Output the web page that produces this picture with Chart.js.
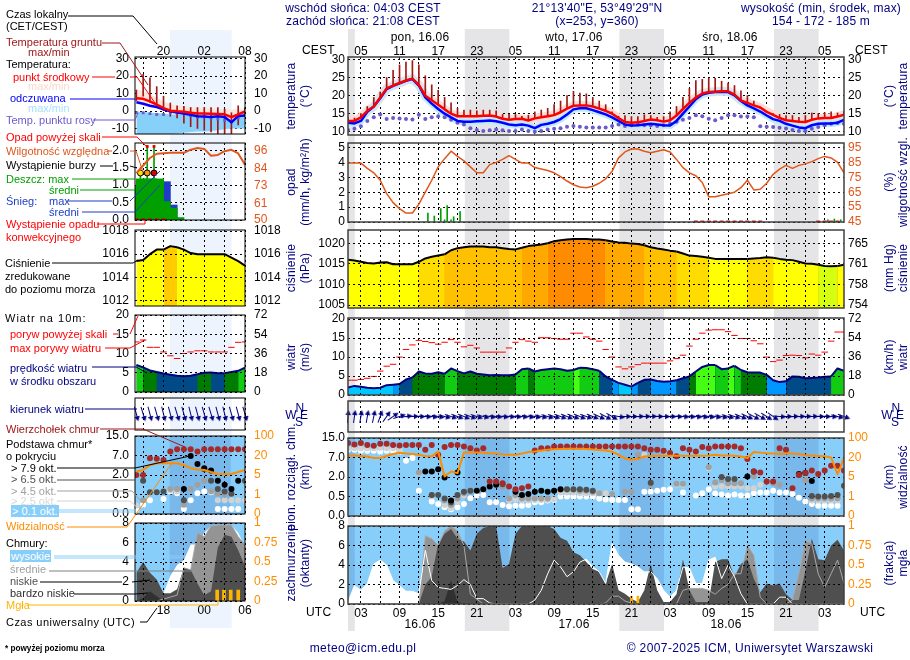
<!DOCTYPE html>
<html lang="pl">
<head>
<meta charset="UTF-8" />
<title>Meteogram</title>
<script src="https://cdn.jsdelivr.net/npm/chart.js"></script>
<style>
  html, body { margin: 0; padding: 0; background: #fff; }
  #page { position: relative; width: 910px; height: 660px; overflow: hidden; font: 12px "Liberation Sans", Arial, sans-serif; }
  #page canvas { position: absolute; }
  #page svg { position: absolute; left: 0; top: 0; }
  .t { position: absolute; white-space: nowrap; transform: translateY(-50%); letter-spacing: 0.2px; }
  .leg { font-size: 11px; letter-spacing: 0; }
  .c { transform: translate(-50%, -50%); }
  .r { transform: translate(-50%, -50%) rotate(-90deg); }
</style>
</head>
<body>
<div id="page"></div>
<script>
const n = null;

// ---- main column, hours counted from 16.06 00 UTC ----
const hours = [];
for (let h = 1; h <= 78; h++) hours.push(h);

const nightStart = [-5, 19.13, 43.13, 67.13];
const nightEnd = [2.05, 26.05, 50.05, 74.05];

const tempMid = [
  13,13,14,15.8,17,19.5,22,22.8,23.5,24.2,
  24.7,23,20,18.7,17.5,16.2,15,14.3,14.3,14.3,
  14.3,14.4,14.5,14.2,13.6,13.3,13.5,13.6,13.1,13.7,
  14,14.3,14.6,15.4,16.4,17.2,17.3,17.3,17,16.4,
  15.8,15,13.8,12.7,12.5,12.6,13,13.4,13.2,12.8,
  13.2,14.5,16.3,18,19.5,20.6,21,21.1,21.2,21.2,
  20.3,18.7,18,17.3,16.7,15.5,14.7,13.8,13.2,13,
  12.8,12.7,13.3,13.7,13.8,13.8,14.2,14.7];
const tempFeel = [
  12.5,12.3,13,15.5,17,19.3,21.8,22.7,23.4,24.1,
  24.6,22.8,19.5,17.8,16.3,15,14,13,12.8,12.8,
  12.9,13,13.1,12.9,12.5,12,11.8,12,11.7,11,
  11.9,12.2,12.7,13.5,14.8,16.2,16.5,16.5,16,15.4,
  14.8,14,13,12,11.7,11.8,12,12.2,12,11.8,
  11.7,13,15,17,19,20.3,20.8,21,21,21,
  20.1,18.5,17.3,16.5,15.6,14.5,13.5,13,12.2,11.7,
  11.2,11,11.8,12.2,12.3,12.3,12.5,13.3];
const tempDew = [
  10.5,10.8,11.5,13,14,14.8,13.5,13.8,13.7,13.5,
  13.4,14.7,13.5,14,14.3,14,13.3,12.5,12,11,
  10.5,10.2,10.4,10.6,10.4,10.2,10.2,10.6,10.2,10,
  10.2,10.6,10.8,11,11.4,11.6,11.4,11.2,11.2,11.2,
  11.2,11.6,12,11.6,11.8,12,11.8,11.8,11.6,11.8,
  12.3,12.8,13.3,13.8,14.6,14.3,13.6,13.2,13.8,14.6,
  14.6,14.2,14.2,14,11.5,11.4,11.3,11.1,10.9,10.5,
  10.2,10.2,10.8,11.3,11.8,12.2,12.4,12.2];
const soilMax = [
  14,13.8,15,17,19.5,21,25,27,28.5,29.3,
  29.7,28.5,25.5,23,21.5,19.5,18,16.5,16,16,
  15.8,16,16,15.8,14.8,14.8,14.8,14.3,14.6,15.5,
  16,16.5,17.5,18.5,20,21.2,20.7,20.5,19.5,18.5,
  17.5,15.5,14.3,14.5,14.2,14.2,14.7,14.5,14,14.2,
  15.5,17,19.5,22,24.2,24.5,24.8,24.8,24,23.5,
  22.8,21.3,20,18.5,16.5,15.5,15,14.8,14.5,14.5,
  14,14.5,15.2,15,15.3,15.5,15.2,15.7];

const humidity = [
  84.5,84.5,84.5,81,78,73,64,58,54,51,
  51,57,65,73,82,87.5,92.5,89,86,82,
  78,78,83.5,85,87,89.5,87,84.5,84.5,81.5,
  80.5,79.5,78,75.5,72.5,70,68.5,68,69,71,
  74,79,88,92,94,94,92.5,91.5,92.5,93.5,
  92,87,81.5,78,76,71.5,62,62,63,64,
  65,68,73,66.5,67,71,77,80.5,83,81,
  83,84,85.5,87.5,89,88,85,78];
const rainHours = [13.4,14.4,15.4,16,16.4,17,17.4,18.4,75.5,76.5,77.5];
const rainValues = [0.6,0.4,0.9,0.15,1.1,0.15,0.35,0.7,0.15,0.2,0.15];
const convectiveHours = [55,56,57,58,59,60,61,62,63,64,65,74,75,76,77];
const convectiveValues = [0.03,0.03,0.03,0.03,0.03,0.03,0.03,0.03,0.03,0.03,0.03,0.03,0.03,0.03,0.03];

const pressure = [
  1016,1015.8,1015.5,1015.2,1015.1,1015.3,1015.4,1014.9,1014.9,1014.9,
  1014.9,1015.5,1016.3,1016.7,1017,1017.3,1018.3,1018.8,1019,1019.2,
  1019.2,1019.2,1019,1019,1018.8,1018.6,1018.5,1018.9,1019.3,1019.5,
  1019.7,1020,1020.5,1020.7,1020.9,1021,1021,1021,1020.9,1020.9,
  1020.7,1020.4,1020.2,1020.1,1019.9,1019.8,1019.5,1019,1018.7,1018.5,
  1018.2,1018,1017.5,1017,1016.9,1016.7,1016.5,1016.2,1016.2,1016.2,
  1016.2,1016.2,1016.2,1016.3,1016.4,1016.6,1016.5,1016.2,1016,1015.9,
  1015.5,1015.1,1015,1014.8,1014.5,1014.4,1014.5,1014.8];

const windSpeed = [
  2,2.4,2.2,1.9,1.8,1.9,2.6,2.7,2.9,4.1,
  4.6,6.2,5.7,5.6,6,5.6,7,6.3,5.7,6.2,
  5.6,5.4,5.2,5.3,5.2,5.2,5.4,6.8,7,6.2,
  6.6,6.8,7,6.8,6.4,6.6,7.2,7.1,6.8,6.4,
  4.9,4,3.2,2.7,2.2,3.2,4,4.1,3.7,3.5,
  3.6,3.9,4.4,4.9,6.2,7.4,7.9,7.9,6.8,7,
  7.7,6.6,6,5.9,5.9,5.3,3.9,3.4,3.6,4.9,
  4.8,4.4,4.5,4.6,4.8,4.9,7,6.4];
const windGust = [
  3.9,3.9,4.1,4.4,4.9,6.3,7.6,8.1,10,12,
  13.2,14.4,14.1,13.8,13.4,13.9,14.6,13.9,12.7,13.1,
  12.4,11.3,11.3,11.3,11.3,12.4,13.9,14.6,14.2,13.9,
  15.1,15.1,14.9,14.7,14.7,16.3,16.3,15.3,14.7,14.2,
  12,10,7.4,6.9,7.4,8,8.4,8.4,8.4,8.4,
  9,9.6,10.5,12.9,14.7,16.3,17.1,17.2,17.2,16.7,
  15.7,14.9,14.9,14.3,13.5,10,8.8,9.2,10.4,10.5,
  10.4,9.8,10.8,10.5,11.3,14.2,16.6,16.6];
const windDir = [
  5,8,10,10,12,20,35,55,72,82,
  88,92,95,98,100,105,108,110,112,110,
  108,105,100,98,98,96,96,98,100,102,
  104,106,108,110,112,112,112,110,112,115,
  118,120,100,90,90,88,88,88,90,92,
  92,94,96,96,98,100,100,102,104,106,
  108,112,115,118,120,122,125,95,90,88,
  88,88,88,90,92,95,105,110];

// cloud heights are kept as positions on the uneven axis (0.0, 0.5, 2.0, 7.0, 15.0 km)
const cloudTop = [
  3.74,3.67,3.74,3.64,3.6,3.7,3.7,3.64,3.62,3.64,
  3.64,3.64,3.4,3.64,3.14,3.54,3.64,3.64,3.57,3.48,
  3.36,3.48,1.77,1.77,1.68,1.51,1.37,1.42,1.51,3.36,
  3.48,3.48,3.57,3.56,3.56,3.56,3.56,3.56,3.56,3.56,
  3.56,3.56,3.56,3.56,3.56,3.56,3.48,3.4,3.4,3.35,
  3.23,3.06,3.48,3.4,3.31,3.54,3.48,3.57,3.57,3.57,
  3.57,3.48,2.92,2.28,2.23,1.77,1.77,3.48,3.4,1.42,
  2.11,2.2,2.33,2.15,2.33,2.58,2.58,2.33];
const base79 = [
  n,n,n,n,n,n,n,n,n,n,
  n,n,2.28,2.28,2.4,1.97,.79,2.23,n,n,
  1.3,1.37,1.51,1.6,n,n,1.25,1.08,1.13,1.25,
  1.3,1.24,1.3,1.37,n,n,n,n,n,n,
  n,n,n,n,n,n,n,n,n,n,
  n,n,n,n,n,n,n,n,n,n,
  n,n,2.03,2.28,n,n,n,n,n,n,
  2.15,2.2,1.8,n,n,n,n,n];
const base65 = [
  n,n,n,n,n,n,n,n,n,n,
  n,n,n,1.08,1.08,.9,.69,1.08,1.25,1.3,
  n,n,n,n,1.63,n,n,n,n,n,
  n,n,n,n,1.37,1.37,1.37,1.34,1.3,n,
  n,n,n,n,n,n,n,1.7,n,n,
  n,n,n,n,n,n,n,n,2,1.9,
  1.9,n,n,n,n,n,n,n,n,n,
  2.1,n,1.03,1,1,1.03,1.08,1.55];
const base45 = [
  n,n,n,n,n,n,n,n,n,n,
  n,2.23,n,1.08,n,.8,.57,.9,1.17,1.28,
  n,n,n,1.6,1.5,.9,1.08,.9,.9,.9,
  .9,.9,1.3,1.34,1.34,1.34,1.3,1.3,1.25,1.17,
  n,1.13,n,1.25,1.25,3.14,n,1.6,n,n,
  n,1.65,1.65,n,n,n,2.5,1.72,1.85,1.68,
  1.68,1.68,n,2.03,n,1.77,1.68,1.6,n,n,
  n,1.85,.9,.9,.9,.9,.9,n];
const base25 = [
  3.48,3.48,3.48,3.48,3.48,3.5,3.48,3.48,3.4,n,
  n,2.2,n,1,n,.57,.4,.74,1.05,n,
  n,n,n,n,n,.8,.85,.8,.8,.82,
  .82,.82,.85,1.2,1.2,1.2,1.17,1.17,1.17,1.17,
  1.17,1.13,n,n,n,n,3.14,n,n,n,
  n,1.6,1.6,n,n,n,2.45,1.51,1.51,1.51,
  1.51,1.51,1.42,1.42,1.6,n,n,n,n,n,
  n,n,.79,.79,.79,.79,.79,n];
const base01 = [
  3.4,3.4,3.35,3.35,3.35,3.3,3.35,3.35,3.3,2.83,
  2.97,1.3,n,.74,.62,.45,.34,.45,.62,.91,
  1.05,1.08,.7,.7,.57,.5,.52,.52,.57,.7,
  .7,.79,.82,1,1,1,1,1,1,.9,
  .85,.82,.82,.82,.34,.34,1.25,1.25,1.3,1.34,
  1.37,n,1.2,n,1.05,1.17,1.37,1.15,1.1,1.05,
  1.1,1.05,1.05,1.17,1.2,1.2,1.29,1.2,1.2,1.13,
  .94,.74,.62,.52,.52,.52,.52,n];
const visibility = [
  3.1,3.1,3.08,3.05,2.97,2.97,3.08,3.18,3.24,3.2,
  3.18,3.14,3.07,3.06,3.31,2.03,2.28,2.2,3.26,3.26,
  3.26,3.24,3.22,3.2,3.16,3.14,3.14,3.2,3.28,3.31,
  3.36,3.4,3.42,3.44,3.45,3.45,3.45,3.43,3.41,3.38,
  3.36,3.3,3.14,2.95,2.88,2.92,3.05,3.08,3.09,3.09,
  3.09,3.09,3.09,3.09,3.09,3.09,3.1,3.14,3.1,3.1,
  3.09,3.05,2.97,3.28,3.25,3.22,3.2,3.18,3.2,3.2,
  3.18,3.12,3.1,3.08,3.06,3,2.15,2.97];

const coverHigh = [
  .2,1.9,1.4,2.1,4.1,4.5,4,2.4,1.9,1.3,
  1.3,1.05,5.5,2.4,1.7,1.6,1.5,1.9,2.5,2,
  .55,.55,.1,0,0,0,0,0,0,.4,
  1.4,3.1,4.5,3.8,2.8,3.3,4.3,4.6,3.8,3.3,
  2.1,6.2,5,4.3,4.1,3.8,3.3,3.3,2.6,1.4,
  .7,1.4,3.8,3.7,2.1,2.1,4.5,4.8,2.6,4,
  2.8,1.05,0,0,0,0,0,.7,.7,0,
  0,0,0,0,0,0,0,0];
const coverMid = [
  0,0,0,0,0,0,0,0,0,0,
  0,0,7,6.7,6,7.5,8,7.5,6,1,
  .5,0,0,0,0,0,0,0,0,0,
  0,0,0,0,0,0,0,0,0,0,
  .1,.8,.8,.3,.1,0,0,0,0,0,
  0,0,1.4,1.6,1.6,1.6,1.4,1,1.6,2,
  3.1,3.1,6,5,.7,0,0,0,0,.4,
  3.1,6.5,6.2,3.1,1.7,3.1,4.5,2.1];
const coverLow = [
  0,0,0,0,0,0,0,0,0,0,
  0,0,2,2.8,6.2,7.2,7.7,6.7,6.4,5.5,
  7.2,7.8,8,8,3.7,4.1,7.2,8,8,8,
  8,8,7.7,6.8,6.5,5.3,5,4.3,3.6,3.3,
  2.1,4.1,1.4,1.05,.55,.2,1.4,4.1,1.4,.2,
  .2,1,4.6,1.4,.2,.2,.2,4.3,4.6,4.6,
  2.8,4.1,4.6,2.6,1.2,2.1,1.9,2.1,1,.4,
  .4,3.4,6.7,4.6,4.5,6,6.6,5.5];
const coverVeryLow = [
  0,0,0,0,0,0,0,0,0,0,
  0,0,0,0,0,.3,2.4,.2,0,0,
  0,0,0,0,0,0,0,0,0,0,
  0,0,0,0,0,0,0,0,0,0,
  0,0,0,0,0,0,0,0,0,0,
  0,0,0,0,0,0,0,0,0,0,
  0,0,0,0,0,0,0,0,0,0,
  0,0,0,0,0,0,0,0];
const fogHours = [45, 46];
const fogValues = [0.1, 0.1];

// ---- left column (legend sample), hours 14..30 ----
const legHours = [14,15,16,17,18,19,20,21,22,23,24,25,26,27,28,29,30];
const legNightStart = [18.9];
const legNightEnd = [27.9];
const legTemp = [7.3,7,5.5,3.7,1.7,.2,-.2,-.4,-1,-1.4,-1.5,-1.6,-1.7,-1.9,-3.5,-2,-.2];
const legFeel = [5,4.2,3,2.3,1,-.2,-.8,-1.5,-2.2,-3,-3.2,-3.5,-3,-3.5,-6.5,-2.8,-2.6];
const legTempMax = [13,11,9.5,7.6,5.5,3.8,3.2,2.7,2.3,1.9,1.8,1.6,1.2,1,.9,.8,.8];
const legFeelTop = [-.3,-.5,-1,-1.2,-1.5,-2,-2,-2,-2.5,-3,-3.2,-3.5,-3.5,-3.5,-6,-3,-3];
const legFeelBottom = [-13.2,-13.2,-13.2,-13.2,-13.2,-13.2,-13,-12.5,-12,-11.7,-11.7,-11.5,-11,-10.5,-10,-10,-10];
const legDew = [-1,-1,-1.5,-2,-2,-1,-1.2,-1.5,-2.7,-3.5,-3.5,-4,-4.6,-5.4,-6,-4,-2];
const legSoilMax = [12,21,19,14,8.5,4.6,3,2.7,2,2,2,2,2,1.2,-1,3,2];
const legSoilMin = [6,8.5,5,3,0,-3,-4,-7,-9,-10,-11,-12,-13,-13,-13,-8,-3];
const legHumidity = [81,86,91,93.8,94.2,94.4,94.4,94.4,96.5,97.6,97,92.5,93,95.5,96.4,94,86.5];
const legRainHours = [14.5,15.5,16.5,17.5,18.5,19.5];
const legRainMean = [.96,1.18,1.18,.53,.34,.07];
const legSnowMean = [0,0,0,1.1,.43,0];
const legWhiskerHours = [14.6,15.6,16.6];
const legWhiskerTop = [1.35,2.1,2.1];
const legStormLevel = [1.35,1.35,1.35];
const legOverScale = [n,2.11,2.11];
const legConvectiveHours = [14,15,16,17,18];
const legConvectiveValues = [.02,.02,.02,.02,.02];
const legPressure = [1015.4,1015.5,1016,1016.4,1016.4,1016.7,1016.6,1016.4,1016.1,1016,1016,1016,1016,1016,1015.7,1015.4,1015];
const legWind = [7,6.4,5.6,5.2,4.8,4.5,4.2,4.1,4.2,4.6,5,5.05,4.9,4.9,5.2,5.5,6.3];
const legGust = [13,13.5,11.6,11.6,10.4,9.4,8.7,10,10.4,10.7,10.7,10.4,10.4,10.4,11.6,12.9,13];
const legDir = [165,163,165,164,166,165,163,164,166,165,164,163,165,166,164,165,163];
const legTop = [2,2,2.86,2.83,2.77,3.2,3.32,3.32,3.32,3.2,3.32,3.32,3.32,3.32,3.32,3.32,3.32];
const leg79 = [n,n,n,n,n,n,n,1.28,2.98,2.57,2.35,2.23,1.7,1.5,1.28,1.7,n];
const leg65 = [n,1.7,1.12,1.12,1.16,n,n,.7,n,n,2.3,1.7,1.28,1.16,1.04,n,1.7];
const leg45 = [n,.7,n,n,n,1.28,1.28,.48,1.28,1.5,1.7,1.16,1.07,1,n,n,n];
const leg25 = [.43,n,n,n,n,1.2,1.15,n,n,n,n,n,.7,.7,.7,.7,.7];
const leg01 = [.22,.48,.7,n,.77,1.16,1.07,.26,.7,1.07,1.16,1.12,.26,.26,.26,.26,n];
const legVis = [2.18,2.26,2.5,2.6,2.6,2.6,2.6,2.5,2.35,2.28,2.26,2.15,2.05,2.05,2.05,2.15,2.26];
const legHigh = [0,0,0,0,.8,2.6,3.7,4.2,5.8,5.8,7,7.7,7.8,7.8,7.8,7,5.6];
const legMid = [0,0,0,0,.2,.4,.6,3.4,3.2,7,6.6,7.7,7.8,7.8,7.8,6.6,5.8];
const legLow = [2.9,4,2.9,2.2,.8,.8,1.2,3.4,3.2,1.8,.6,1,5.5,6.8,6.6,5.2,3.6];
const legVeryLow = [0,.3,1,.5,0,0,0,0,0,0,0,0,0,0,0,0,0];
const legFogHours = [25.9,26.9,27.9,29];
const legFogValues = [.14,.14,.14,.14];

// ---- tick labels ----
const cloudTicks = [0,1,2,3,4];
const cloudLabels = ['0.0','0.5','2.0','7.0','15.0'];
const visLabels = ['0','1','5','20','100'];

// ---- colours ----
const NAVY = '#000080', ORANGE = '#ff8c00', HUMID = '#e0561c', SKY = '#87cefa', SKYNIGHT = '#79b8ea';

function pressColor(p) {
  if (p < 1014.6) return '#d4ff10';
  if (p < 1016.25) return '#ffff00';
  if (p < 1018) return '#ffdc00';
  if (p < 1019.3) return '#ffc000';
  if (p < 1020.5) return '#ffa800';
  return '#ff8c00';
}
function legPressColor(p) { return p >= 1016.6 ? '#ffcc00' : '#ffff00'; }
function windColor(v) {
  if (v < 2.8) return '#00c8ff';
  if (v < 4) return '#0096ff';
  if (v < 5) return '#004a88';
  if (v < 6.25) return '#007c00';
  if (v < 7.2) return '#12cc12';
  return '#44ff14';
}

const page = document.getElementById('page');
const FONT = { family: '"Liberation Sans", Arial, sans-serif', size: 12 };
const AXW = 46, VPAD = 12;

function pts(xs, ys) { return xs.map((x, i) => ({ x, y: ys[i] })); }
function pad2(v) { return String(v).padStart(2, '0'); }

// plot background, night shading and frame for one panel
function framePlugin(o) {
  return {
    id: 'frame',
    beforeDraw(chart) {
      const a = chart.chartArea, x = chart.scales.x, c = chart.ctx;
      if (!o.bg) return;
      c.save();
      c.fillStyle = o.bg;
      c.fillRect(a.left, a.top, a.width, a.height);
      c.fillStyle = o.nightBg;
      o.nights[0].forEach((s, i) => {
        const x0 = Math.max(x.getPixelForValue(s), a.left);
        const x1 = Math.min(x.getPixelForValue(o.nights[1][i]), a.right);
        c.fillRect(x0, a.top, x1 - x0, a.height);
      });
      c.restore();
    },
    afterDraw(chart) {
      const a = chart.chartArea, c = chart.ctx;
      c.save();
      c.strokeStyle = o.frame;
      c.lineWidth = o.frameW;
      c.strokeRect(a.left, a.top, a.width, a.height);
      c.restore();
    }
  };
}

function yAxis(pos, s, gridOn, gridZ, pad) {
  const ticks = s.ticks;
  const labels = s.labels;
  return {
    type: 'linear', position: pos, min: s.min, max: s.max,
    afterBuildTicks: a => { a.ticks = ticks.map(v => ({ value: v })); },
    afterFit: a => { a.width = AXW; a.paddingTop = 0; a.paddingBottom = 0; },
    grid: { display: gridOn, color: '#000', lineWidth: 1, drawTicks: false, z: gridZ },
    border: { display: false, dash: [2, 3] },
    ticks: {
      display: !s.hide, color: s.color || '#000', font: FONT, padding: pad, autoSkip: false,
      callback: v => labels ? labels[ticks.indexOf(v)] : String(v)
    }
  };
}

function panel(o) {
  const xPos = o.xPos || 'bottom';
  const xH = o.xLabel ? 16 : 0;
  const W = o.r - o.l + AXW * 2;
  const H = o.b - o.t + VPAD * 2 + xH;
  const cv = document.createElement('canvas');
  cv.width = W; cv.height = H;
  cv.style.left = (o.l - AXW) + 'px';
  cv.style.top = (o.t - VPAD - (xPos === 'top' ? xH : 0)) + 'px';
  page.appendChild(cv);
  const ds = o.datasets;
  ds.forEach((d, i) => { d.order = ds.length - i; });
  const scales = {
    x: {
      type: 'linear', position: xPos, min: o.xMin, max: o.xMax, offset: false,
      afterBuildTicks: a => { a.ticks = o.xGrid.map(v => ({ value: v })); },
      afterFit: a => { a.height = xH; a.paddingLeft = 0; a.paddingRight = 0; },
      grid: { color: '#000', lineWidth: 1, drawTicks: false, offset: false, z: o.gridZ || 0 },
      border: { display: false, dash: [2, 3] },
      ticks: {
        display: !!o.xLabel, color: '#000', font: FONT, padding: xPos === 'top' ? -2 : 2, autoSkip: false, maxRotation: 0,
        callback: v => o.xLabel ? o.xLabel(v) : ''
      }
    },
    y: yAxis('left', o.y, !o.noYGrid, o.gridZ || 0, o.padL),
    y2: yAxis('right', o.y2 || { min: o.y.min, max: o.y.max, ticks: [], hide: true }, false, 0, o.padR)
  };
  return new Chart(cv, {
    type: 'line',
    data: { datasets: ds },
    options: {
      responsive: false, animation: false, devicePixelRatio: 1,
      layout: { padding: { top: VPAD, bottom: VPAD, left: 0, right: 0 } },
      plugins: { legend: { display: false }, tooltip: { enabled: false } },
      elements: { line: { tension: 0 }, point: { radius: 0 } },
      scales
    },
    plugins: [framePlugin({
      bg: o.bg, nightBg: o.nightBg, nights: o.nights,
      frame: o.frame, frameW: o.frameW
    })]
  });
}

// dataset helpers
function line(xs, ys, color, w, extra) {
  return Object.assign({ type: 'line', data: pts(xs, ys), borderColor: color, borderWidth: w, pointRadius: 0, fill: false, borderJoinStyle: 'round' }, extra || {});
}
function area(xs, ys, color, extra) {
  return Object.assign({ type: 'line', data: pts(xs, ys), borderWidth: 0, pointRadius: 0, fill: 'start', backgroundColor: color }, extra || {});
}
function dots(xs, ys, color, r, extra) {
  return Object.assign({ type: 'line', data: pts(xs, ys), showLine: false, pointRadius: r, pointBackgroundColor: color, pointBorderWidth: 0, spanGaps: false }, extra || {});
}
function dashes(xs, ys, color, r, w, extra) {
  return Object.assign({ type: 'line', data: pts(xs, ys), showLine: false, pointStyle: 'line', pointRadius: r, pointBorderColor: color, pointBorderWidth: w }, extra || {});
}
function bars(xs, ys, color, thick, extra) {
  return Object.assign({ type: 'bar', data: pts(xs, ys), backgroundColor: color, barThickness: thick, grouped: false, borderWidth: 0 }, extra || {});
}
function spans(xs, lo, hi) { return xs.map((_, i) => [lo[i], hi[i]]); }

function arrowSprite(len, head) {
  const s = document.createElement('canvas');
  s.width = s.height = len + 6;
  const c = s.getContext('2d'), m = s.width / 2;
  c.strokeStyle = NAVY; c.fillStyle = NAVY; c.lineWidth = 1;
  c.beginPath(); c.moveTo(m, m + len / 2); c.lineTo(m, m - len / 2 + head); c.stroke();
  c.beginPath(); c.moveTo(m, m - len / 2); c.lineTo(m - head * 0.55, m - len / 2 + head); c.lineTo(m + head * 0.55, m - len / 2 + head); c.closePath(); c.fill();
  return s;
}
function arrows(xs, dirs, sprite) {
  const zeros = xs.map(() => 0);
  return { type: 'line', data: pts(xs, zeros), showLine: false, pointStyle: sprite, pointRadius: 2, pointRotation: c => dirs[c.dataIndex], clip: false };
}

// sun-down bands behind a whole column
function backdrop(l, r, t, b, xMin, xMax, starts, ends, color) {
  const cv = document.createElement('canvas');
  cv.width = r - l; cv.height = b - t;
  cv.style.left = l + 'px'; cv.style.top = t + 'px';
  page.appendChild(cv);
  new Chart(cv, {
    type: 'line', data: { datasets: [] },
    options: {
      responsive: false, animation: false, devicePixelRatio: 1,
      plugins: { legend: { display: false }, tooltip: { enabled: false } },
      scales: { x: { type: 'linear', min: xMin, max: xMax, display: false }, y: { display: false } }
    },
    plugins: [{
      id: 'nights',
      beforeDraw(chart) {
        const a = chart.chartArea, x = chart.scales.x, c = chart.ctx;
        c.fillStyle = color;
        starts.forEach((s, i) => {
          const x0 = Math.max(x.getPixelForValue(s), a.left);
          const x1 = Math.min(x.getPixelForValue(ends[i]), a.right);
          c.fillRect(x0, a.top, x1 - x0, a.height);
        });
      }
    }]
  });
}

const M = { l: 348, r: 844, xMin: 1, xMax: 78, nights: [nightStart, nightEnd], frame: '#404040', frameW: 1.5, padL: 3, padR: 4 };
const L = { l: 135, r: 245.5, xMin: 13.8, xMax: 30, nights: [legNightStart, legNightEnd], frame: '#000', frameW: 1, padL: 6, padR: 9 };
const mainGrid = [3,6,9,12,15,18,21,24,27,30,33,36,39,42,45,48,51,54,57,60,63,66,69,72,75];
const legGrid = [15,18,21,24,27,30];
M.xGrid = mainGrid; L.xGrid = legGrid;

backdrop(348, 844, 29, 631, 1, 78, nightStart, nightEnd, '#e5e5e7');
backdrop(135, 246, 30, 628, 13.8, 30, legNightStart, legNightEnd, '#eef4fd');

const mainTop = v => (v - 3) % 6 === 0 ? pad2((v + 2) % 24) : '';
const mainBottom = v => (v - 3) % 6 === 0 ? pad2(v % 24) : '';
const legLabelled = [18, 24, 30];
const legTopLabel = v => legLabelled.includes(v) ? pad2((v + 2) % 24) : '';
const legBottomLabel = v => legLabelled.includes(v) ? pad2(v % 24) : '';

// ---- main column ----
panel({ ...M, t: 57, b: 135, xPos: 'top', xLabel: mainTop,
  y: { min: 9.1, max: 30.7, ticks: [10,15,20,25,30] },
  y2: { min: 9.1, max: 30.7, ticks: [10,15,20,25,30] },
  datasets: [
    line(hours, tempMid, '#ffdcd4', 9),
    line(hours, tempFeel, '#bfeaff', 7),
    bars(hours, spans(hours, tempMid, soilMax), '#a01818', 1),
    dots(hours, tempDew, '#6a5acd', 2),
    line(hours, tempFeel, '#0000ff', 2.5),
    line(hours, tempMid, '#ff0000', 2.5)
  ] });

panel({ ...M, t: 143, b: 222,
  y: { min: 0, max: 5.3, ticks: [0,1,2,3,4,5] },
  y2: { min: 45, max: 98, ticks: [45,55,65,75,85,95], color: HUMID },
  datasets: [
    bars(rainHours, rainValues, '#00a000', 1),
    dashes(convectiveHours, convectiveValues, '#e00000', 2, 2),
    line(hours, humidity, HUMID, 1.5, { yAxisID: 'y2' })
  ] });

panel({ ...M, t: 230, b: 308, gridZ: 1,
  y: { min: 1004.3, max: 1023.2, ticks: [1005,1010,1015,1020] },
  y2: { min: 1004.3, max: 1023.2, ticks: [1005,1010,1015,1020], labels: ['754','758','761','765'] },
  datasets: [
    area(hours, pressure, '#ffc000'),
    line(hours, pressure, '#000', 2, { fill: 'start', backgroundColor: '#ffff00',
      segment: { backgroundColor: c => pressColor(c.p1.parsed.y) } })
  ] });

panel({ ...M, t: 318, b: 395, gridZ: 1,
  y: { min: 0, max: 20.3, ticks: [0,5,10,15,20] },
  y2: { min: 0, max: 20.3, ticks: [0,5,10,15,20], labels: ['0','18','36','54','72'] },
  datasets: [
    area(hours, windSpeed, '#006030'),
    line(hours, windSpeed, NAVY, 2, { fill: 'start', backgroundColor: '#007c00',
      segment: { backgroundColor: c => windColor(c.p1.parsed.y) } }),
    dashes(hours, windGust, '#ff0000', 3.2, 1)
  ] });

panel({ ...M, t: 401, b: 432, noYGrid: true,
  y: { min: -1, max: 1, ticks: [] },
  datasets: [arrows(hours, windDir, arrowSprite(13, 5))] });

panel({ ...M, t: 438, b: 516, bg: SKY, nightBg: SKYNIGHT,
  y: { min: 0, max: 4, ticks: cloudTicks, labels: cloudLabels },
  y2: { min: 0, max: 4, ticks: cloudTicks, labels: visLabels, color: ORANGE },
  datasets: [
    dots(hours, base01, '#fff', 3),
    dots(hours, base25, '#d2d2d2', 3),
    dots(hours, base45, '#a0a0a0', 3),
    dots(hours, base65, '#505050', 3),
    dots(hours, base79, '#000', 3),
    dots(hours, cloudTop, '#a52a2a', 3),
    line(hours, visibility, ORANGE, 2)
  ] });

panel({ ...M, t: 526, b: 604, bg: SKY, nightBg: SKYNIGHT, gridZ: 1, xLabel: mainBottom,
  y: { min: 0, max: 8, ticks: [0,2,4,6,8] },
  y2: { min: 0, max: 1, ticks: [0,.25,.5,.75,1], labels: ['0','0.25','0.5','0.75','1'], color: ORANGE },
  datasets: [
    area(hours, coverHigh, '#fff'),
    area(hours, coverMid, '#949494'),
    area(hours, coverLow, '#4f4f4f'),
    area(hours, coverVeryLow, '#303030'),
    line(hours, coverMid, '#a8a8a8', 1),
    line(hours, coverHigh, '#fff', 1),
    bars(fogHours, fogValues, '#ffb400', 2, { yAxisID: 'y2' })
  ] });

// ---- left column ----
panel({ ...L, t: 57, b: 134, xPos: 'top', xLabel: legTopLabel,
  y: { min: -13.2, max: 31, ticks: [-10,0,10,20,30] },
  y2: { min: -13.2, max: 31, ticks: [-10,0,10,20,30] },
  datasets: [
    line(legHours, legFeel, 'rgba(0,0,0,0)', 0),
    line(legHours, legTempMax, 'rgba(0,0,0,0)', 0, { fill: '-1', backgroundColor: '#ffe4da' }),
    line(legHours, legFeelBottom, 'rgba(0,0,0,0)', 0),
    line(legHours, legFeelTop, 'rgba(0,0,0,0)', 0, { fill: '-1', backgroundColor: '#87d0fa' }),
    bars(legHours, spans(legHours, legSoilMin, legSoilMax), '#a01818', 1),
    dots(legHours, legDew, '#6a5acd', 2, { pointStyle: 'rect' }),
    line(legHours, legFeel, '#0000ff', 2.5),
    line(legHours, legTemp, '#ff0000', 2.5)
  ] });

panel({ ...L, t: 143, b: 220,
  y: { min: 0, max: 2.21, ticks: [0,.5,1,1.5,2], labels: ['0.0','0.5','1.0','1.5','2.0'] },
  y2: { min: 50, max: 100.9, ticks: [50,61,73,84,96], color: HUMID },
  datasets: [
    bars(legRainHours, legSnowMean, '#1e3cc8', 20.6),
    bars(legRainHours, legRainMean, '#00a000', 20.6),
    bars(legWhiskerHours, legWhiskerTop, '#00a000', 1),
    dots(legWhiskerHours, legOverScale, '#e00000', 2, { pointStyle: 'rect' }),
    dots(legWhiskerHours, legStormLevel, ['#ffe000', '#ff9800', '#e00000'], 3, { pointBorderWidth: 1, pointBorderColor: '#000' }),
    dashes(legConvectiveHours, legConvectiveValues, '#e00000', 2, 2),
    line(legHours, legHumidity, HUMID, 2, { yAxisID: 'y2' })
  ] });

panel({ ...L, t: 230, b: 306, gridZ: 1,
  y: { min: 1011.5, max: 1018.1, ticks: [1012,1014,1016,1018] },
  y2: { min: 1011.5, max: 1018.1, ticks: [1012,1014,1016,1018] },
  datasets: [
    line(legHours, legPressure, '#000', 2, { fill: 'start', backgroundColor: '#ffff00',
      segment: { backgroundColor: c => legPressColor(c.p1.parsed.y) } })
  ] });

panel({ ...L, t: 315, b: 392, gridZ: 1,
  y: { min: 0, max: 20, ticks: [0,5,10,15,20] },
  y2: { min: 0, max: 20, ticks: [0,5,10,15,20], labels: ['0','18','36','54','72'] },
  datasets: [
    area(legHours, legWind, '#006030'),
    line(legHours, legWind, NAVY, 2, { fill: 'start', backgroundColor: '#007c00',
      segment: { backgroundColor: c => windColor(c.p1.parsed.y) } }),
    dashes(legHours, legGust, '#ff0000', 3.2, 1)
  ] });

panel({ ...L, t: 398, b: 430, noYGrid: true,
  y: { min: -1, max: 1, ticks: [] },
  datasets: [arrows(legHours, legDir, arrowSprite(15, 5))] });

panel({ ...L, t: 436, b: 514, bg: SKY, nightBg: SKYNIGHT,
  y: { min: 0, max: 4, ticks: cloudTicks, labels: cloudLabels },
  y2: { min: 0, max: 4, ticks: cloudTicks, labels: visLabels, color: ORANGE },
  datasets: [
    dots(legHours, leg01, '#fff', 3),
    dots(legHours, leg25, '#d2d2d2', 3),
    dots(legHours, leg45, '#a0a0a0', 3),
    dots(legHours, leg65, '#505050', 3),
    dots(legHours, leg79, '#000', 3),
    dots(legHours, legTop, '#a52a2a', 3),
    line(legHours, legVis, ORANGE, 2)
  ] });

panel({ ...L, t: 523, b: 601, bg: SKY, nightBg: SKYNIGHT, gridZ: 1, xLabel: legBottomLabel,
  y: { min: 0, max: 8, ticks: [0,2,4,6,8] },
  y2: { min: 0, max: 1, ticks: [0,.25,.5,.75,1], labels: ['0','0.25','0.5','0.75','1'], color: ORANGE },
  datasets: [
    area(legHours, legHigh, '#fff'),
    area(legHours, legMid, '#949494'),
    area(legHours, legLow, '#4f4f4f'),
    area(legHours, legVeryLow, '#303030'),
    line(legHours, legMid, '#a8a8a8', 1),
    bars(legFogHours, legFogValues, '#ffb400', 3, { yAxisID: 'y2' })
  ] });

// ---- callout lines of the legend ----
const calloutLines = [
  ['#000', '68,16 133,16 157,44'],
  ['#a01818', '102,43 120,43 148,85'],
  ['#f00', '92,77 115,77'], ['#f00', '130,77 137,77 155,103'],
  ['#00f', '70,99 135,99'],
  ['#6a5acd', '93,120 135,120 138,113'],
  ['#f00', '102,137 137,137 146,146'],
  ['#e0561c', '107,151 112,151'], ['#e0561c', '130,151 136,151 143,172'],
  ['#000', '100,166 113,166'], ['#000', '130,166 137,168'],
  ['#00a000', '72,179 135,179'], ['#00a000', '80,190 135,190'],
  ['#1e3cc8', '68,201 112,201'], ['#1e3cc8', '130,201 160,171'], ['#1e3cc8', '82,212 135,212 160,185'],
  ['#f00', '97,224 145,224 145,220'],
  ['#000', '52,263 133,263 138,260'],
  ['#f00', '113,334 118,334'], ['#f00', '130,334 138,316'], ['#f00', '105,348 130,348 145,340'],
  ['#000080', '92,367 136,367 147,373'],
  ['#000080', '85,409 137,409'],
  ['#a01818', '100,429 143,429 185,447'],
  ['#000', '57,468 135,468 190,456'],
  ['#505050', '57,480 135,480'],
  ['#a0a0a0', '57,491 132,491 140,500'],
  ['#d2d2d2', '57,501 130,501 138,508'],
  ['#87cefa', '56,510 136,510'], ['#87cefa', '56,512 136,512'],
  ['#ff8c00', '67,527 127,527 172,463'],
  ['#87cefa', '54,556 185,556'], ['#87cefa', '54,558 185,558'],
  ['#808080', '49,571 192,571'],
  ['#000', '40,582 122,582'], ['#000', '132,582 150,580'],
  ['#000', '74,594 135,594 148,593'],
  ['#ffb400', '27,605 218,605 218,592'],
  ['#000', '140,622 147,622 157,608']
];
const svgNS = 'http://www.w3.org/2000/svg';
const svg = document.createElementNS(svgNS, 'svg');
svg.setAttribute('width', 910); svg.setAttribute('height', 660);
calloutLines.forEach(([col, p]) => {
  const el = document.createElementNS(svgNS, 'polyline');
  el.setAttribute('points', p);
  el.setAttribute('fill', 'none');
  el.setAttribute('stroke', col);
  el.setAttribute('stroke-width', 1);
  svg.appendChild(el);
});
page.appendChild(svg);

// ---- texts ----
function text(s, x, y, color, cls, extra) {
  const d = document.createElement('div');
  d.className = 't' + (cls ? ' ' + cls : '');
  d.textContent = s;
  d.style.left = x + 'px'; d.style.top = y + 'px';
  d.style.color = color || '#000';
  if (extra) Object.assign(d.style, extra);
  page.appendChild(d);
}
const DR = '#a01818', RD = '#f00', GR = '#00a000', BL = '#1e3cc8';
[
  ['Czas lokalny', 6, 14], ['(CET/CEST)', 6, 26],
  ['Temperatura gruntu', 6, 42, DR], ['max/min', 28, 52, DR],
  ['Temperatura:', 6, 64],
  ['punkt środkowy', 13, 77, RD], ['max/min', 28, 86, '#fbd8cc'],
  ['odczuwana', 10, 98, '#0000ff'], ['max/min', 28, 108, '#a8e0ff'],
  ['Temp. punktu rosy', 6, 120, '#6a5acd'],
  ['Opad powyżej skali', 6, 137, RD], ['Wilgotność względna', 6, 151, HUMID],
  ['Wystąpienie burzy', 6, 165],
  ['Deszcz: max', 6, 179, GR], ['średni', 49, 190, GR],
  ['Śnieg:', 6, 201, BL], ['max', 49, 201, BL], ['średni', 49, 212, BL],
  ['Wystąpienie opadu', 6, 224, RD], ['konwekcyjnego', 6, 237, RD],
  ['Ciśnienie', 5, 263], ['zredukowane', 5, 276], ['do poziomu morza', 5, 289],
  ['poryw powyżej skali', 10, 334, RD], ['max porywy wiatru', 10, 348, RD],
  ['prędkość wiatru', 10, 368, NAVY], ['w środku obszaru', 10, 381, NAVY],
  ['kierunek wiatru', 10, 409, NAVY],
  ['Wierzchołek chmur', 6, 429, DR],
  ['Podstawa chmur*', 6, 444], ['o pokryciu', 6, 456],
  ['> 7.9 okt.', 11, 468], ['> 6.5 okt.', 11, 479, '#505050'], ['> 4.5 okt.', 11, 491, '#a0a0a0'], ['> 2.5 okt.', 11, 501, '#d8d8d8'],
  ['Widzialność', 6, 526, ORANGE],
  ['Chmury:', 6, 543],
  ['średnie', 10, 569, '#a0a0a0'], ['niskie', 10, 581, '#505050'], ['bardzo niskie', 10, 593, '#303030'],
  ['Mgła', 6, 605, '#ffb400']
].forEach(r => text(r[0], r[1], r[2], r[3], 'leg'));
text('Wiatr na 10m:', 5, 318, '#000', 'leg', { letterSpacing: '1px' });
text('Czas uniwersalny (UTC)', 6, 622, '#000', 'leg', { letterSpacing: '.45px' });
text('> 0.1 okt.', 11, 511, '#fff', 'leg', { background: SKY, padding: '0 1px' });
text('wysokie', 10, 556, '#fff', 'leg', { background: SKY, padding: '0 1px' });
text('* powyżej poziomu morza', 5, 648, '#000', '', { fontSize: '8.2px', fontWeight: 'bold', letterSpacing: '0' });

[['CEST', 302, 50], ['CEST', 855, 50], ['UTC', 306, 612], ['UTC', 860, 612]].forEach(r => text(r[0], r[1], r[2]));

[
  ['wschód słońca: 04:03 CEST', 363, 8], ['zachód słońca: 21:08 CEST', 363, 21],
  ['21°13\'40"E, 53°49\'29"N', 597, 8], ['(x=253,  y=360)', 597, 21],
  ['wysokość (min, środek, max)', 821, 8], ['154 - 172 - 185 m', 821, 21]
].forEach(r => text(r[0], r[1], r[2], NAVY, 'c'));
text('meteo@icm.edu.pl', 363, 648, NAVY, 'c', { letterSpacing: '.4px' });
text('© 2007-2025 ICM, Uniwersytet Warszawski', 750, 648, NAVY, 'c', { letterSpacing: '.4px' });
[
  ['pon, 16.06', 420, 37], ['wto, 17.06', 574, 37], ['śro, 18.06', 730, 37],
  ['16.06', 420, 624], ['17.06', 574, 624], ['18.06', 726, 624]
].forEach(r => text(r[0], r[1], r[2], '#000', 'c'));

[
  ['temperatura', 291, 96], ['(°C)', 305, 96],
  ['opad', 291, 182], ['(mm/h, kg/m²/h)', 305, 182],
  ['ciśnienie', 291, 268], ['(hPa)', 305, 268],
  ['wiatr', 291, 357], ['(m/s)', 305, 357],
  ['pion. rozciągł. chm.', 291, 477], ['(km)', 305, 477],
  ['zachmurzenie', 291, 563], ['(oktanty)', 305, 563],
  ['(°C)', 889, 96], ['temperatura', 903, 96],
  ['(%)', 889, 182], ['wilgotność wzgl.', 903, 182],
  ['(mm Hg)', 889, 268], ['ciśnienie', 903, 268],
  ['(km/h)', 889, 357], ['wiatr', 903, 357],
  ['(km)', 889, 477], ['widzialność', 903, 477],
  ['(frakcja)', 889, 563], ['mgła', 903, 563]
].forEach(r => text(r[0], r[1], r[2], NAVY, 'r'));

[[291, 415], [887, 415]].forEach(([x, y]) => {
  text('W', x, y, NAVY, 'c');
  text('N', x + 9, y - 7, NAVY, 'c');
  text('E', x + 13, y, NAVY, 'c');
  text('S', x + 8, y + 7, NAVY, 'c');
});
</script>
</body>
</html>
